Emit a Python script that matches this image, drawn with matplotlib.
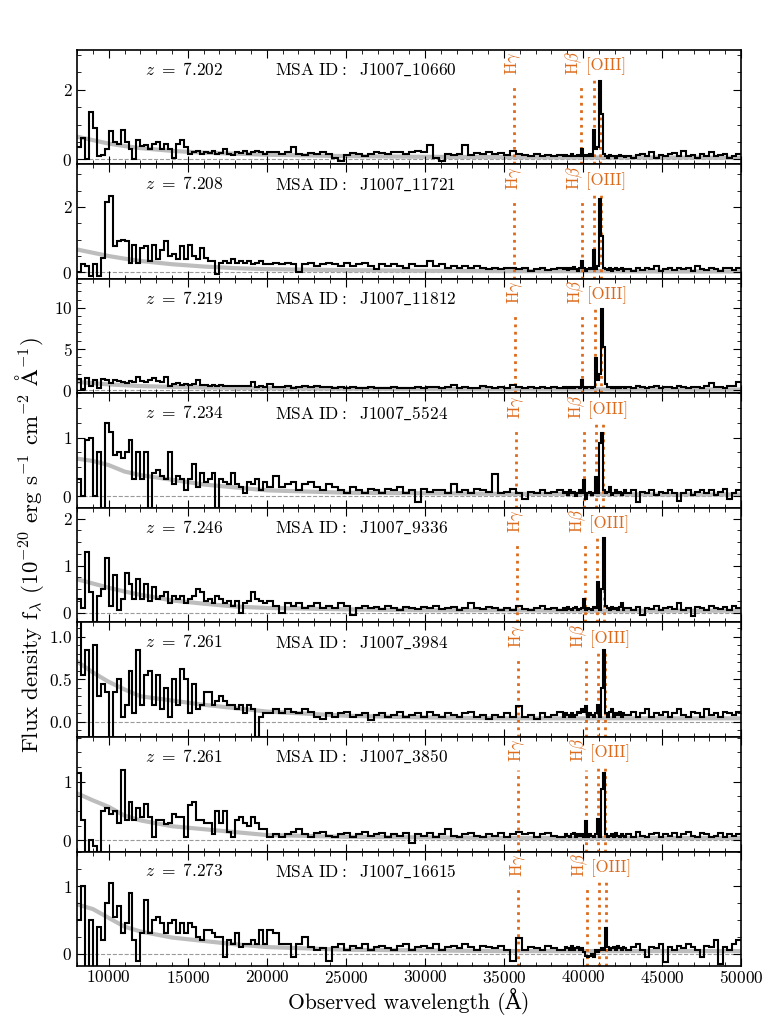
import numpy as np
import matplotlib.pyplot as plt
from matplotlib.ticker import MultipleLocator

plt.rcParams['font.family'] = 'serif'
plt.rcParams['font.serif'] = ['cmr10']
plt.rcParams['mathtext.fontset'] = 'cm'
plt.rcParams['axes.formatter.use_mathtext'] = True

redshifts = [7.202, 7.208, 7.219, 7.234, 7.246, 7.261, 7.261, 7.273]
msa_ids = ['10660', '11721', '11812', '5524', '9336', '3984', '3850', '16615']

# spectral bin edges (A): coarse blue/mid/red, fine around Hbeta+[OIII]
edges = np.concatenate([np.arange(8000, 20000, 250),
                        np.arange(20000, 38750, 375),
                        np.arange(38750, 42750, 125),
                        np.arange(42750, 50001, 290)])

# binned flux, 1e-20 erg/s/cm2/A  (rows: blue, mid, lines, red)
f_10660 = [0.35, 0.6, 0.0, 1.35, 0.9, 0.1, 0.12, 0.3, 0.8, 0.5, 0.45, 0.85, 0.5, 0.3, 0.0, 0.55, 0.38, 0.4, 0.3, 0.45, 0.5, 0.3, 0.45, 0.3, 0.05, 0.45, 0.55, 0.35, 0.15, 0.2, 0.25, 0.15, 0.22, 0.18, 0.25, 0.15, 0.18, 0.3, 0.15, 0.12, 0.2, 0.18, 0.25, 0.15, 0.2, 0.25, 0.22, 0.15,
           0.2, 0.2, 0.15, 0.2, 0.35, 0.15, 0.12, 0.18, 0.15, 0.2, 0.15, 0.05, -0.05, 0.12, 0.18, 0.15, 0.1, 0.15, 0.2, 0.18, 0.15, 0.2, 0.22, 0.15, 0.2, 0.25, 0.2, 0.4, 0.05, -0.05, 0.15, 0.12, 0.15, 0.4, 0.12, 0.18, 0.15, 0.2, 0.15, 0.18, 0.12, 0.25, 0.15, 0.12, 0.1, 0.15, 0.1, 0.12, 0.1, 0.12,
           0.1, 0.12, 0.08, 0.1, 0.15, 0.1, 0.08, 0.12, 0.1, 0.3, 0.1, 0.12, 0.08, 0.15, 0.1, 0.85, 0.3, 0.35, 2.25, 1.3, 0.15, 0.1, 0.05, 0.12, 0.08, 0.1, 0.05, 0.1, 0.12, 0.08, 0.1, 0.06,
           0.1, 0.05, 0.12, 0.15, 0.08, 0.2, 0.05, 0.12, 0.1, 0.15, 0.18, 0.1, 0.25, 0.08, 0.12, 0.05, 0.15, 0.1, 0.2, 0.08, 0.12, 0.15, 0.05, 0.1, 0.15]
f_11721 = [0.0, 0.25, 0.2, -0.1, 0.25, -0.1, 0.45, 2.15, 2.35, 0.8, 0.95, 1.0, 0.95, 0.3, 0.85, 0.3, 0.75, 0.8, 0.35, 0.85, 0.4, 0.7, 0.95, 0.5, 0.55, 0.4, 0.8, 0.4, 0.85, 0.5, 0.4, 0.75, 0.45, 0.35, 0.35, -0.05, 0.3, 0.35, 0.3, 0.4, 0.3, 0.35, 0.3, 0.35, 0.25, 0.3, 0.35, 0.25,
           0.25, 0.3, 0.25, 0.3, 0.25, 0.0, 0.25, 0.3, 0.2, 0.25, 0.3, 0.25, 0.2, 0.3, 0.2, 0.25, 0.3, 0.2, 0.1, 0.25, 0.2, 0.25, 0.2, 0.15, 0.25, 0.2, 0.2, 0.35, 0.2, 0.25, 0.15, 0.2, 0.15, 0.2, 0.15, 0.2, 0.15, 0.1, 0.15, 0.1, 0.12, 0.15, 0.1, 0.12, 0.05, 0.1, 0.12, 0.08, 0.1, 0.15,
           0.1, 0.15, 0.08, 0.12, 0.1, 0.18, 0.1, 0.05, 0.12, 0.35, 0.12, 0.05, 0.1, 0.15, 0.1, 0.7, 0.1, 0.2, 2.25, 1.1, 0.15, 0.1, 0.08, 0.12, 0.05, 0.1, 0.15, 0.08, 0.1, 0.12, 0.05, 0.1,
           0.1, 0.05, 0.15, 0.08, 0.12, 0.1, 0.2, 0.05, 0.1, 0.15, 0.08, 0.12, 0.1, 0.15, 0.05, 0.2, 0.1, 0.08, 0.15, 0.1, 0.05, 0.12, 0.15, 0.08, 0.12]
f_11812 = [1.3, 0.1, 1.5, 0.5, 1.2, 0.3, 1.3, 1.2, 0.9, 1.2, 1.1, 1.0, 0.9, 1.1, 1.0, 1.6, 1.1, 1.0, 1.2, 1.5, 1.1, 1.0, 1.6, 0.5, 0.8, 0.9, 0.6, 0.7, 0.6, 0.8, 1.2, 0.6, 0.6, 0.5, 0.6, 0.5, 0.6, 0.5, 0.55, 0.5, 0.45, 0.5, 0.5, 0.45, 1.0, 0.4, 0.45, 0.4,
           0.8, 0.4, 0.35, 0.45, 0.3, 0.4, 0.45, 0.35, 0.5, 0.4, 0.35, 0.3, 0.4, 0.3, 0.35, 0.25, 0.3, 0.35, 0.3, 0.25, 0.3, 0.35, 0.3, 0.25, 0.3, 0.35, 0.3, 0.35, 0.4, 0.3, 0.35, 0.6, 0.3, 0.35, 0.3, 0.3, 0.5, 0.35, 0.3, 0.35, 0.3, 0.6, 0.35, 0.3, 0.35, 0.3, 0.4, 0.3, 0.35, 0.3,
           0.35, 0.3, 0.4, 0.3, 0.35, 0.3, 0.4, 0.35, 0.3, 1.25, 0.35, 0.3, 0.4, 0.35, 0.3, 0.4, 3.9, 1.2, 2.0, 9.8, 5.2, 0.8, 0.4, 0.35, 0.3, 0.4, 0.3, 0.35, 0.3, 0.4, 0.35, 0.3,
           0.4, 0.3, 0.45, 0.35, 0.3, 0.4, 0.5, 0.3, 0.35, 0.4, 0.3, 0.45, 0.35, 0.3, 0.4, 0.35, 0.3, 0.45, 0.9, 0.35, 0.4, 0.3, 0.45, 0.5, 1.0]
f_5524 = [0.3, 0.0, 0.95, 1.0, 0.0, 0.75, -0.2, 1.25, 1.1, 0.7, 0.75, 0.65, 0.75, 0.95, 0.3, 0.75, 0.3, 0.75, -0.2, 0.4, 0.45, 0.35, 0.3, 0.75, 0.2, 0.35, 0.3, 0.1, 0.3, 0.55, 0.15, 0.4, 0.25, 0.3, 0.4, -0.2, 0.3, 0.25, 0.2, 0.4, 0.2, 0.15, 0.05, 0.25, 0.2, 0.3, 0.1, 0.25,
          0.15, 0.35, 0.15, 0.2, 0.25, 0.1, 0.2, 0.25, 0.15, 0.1, 0.2, 0.15, 0.1, 0.05, 0.15, 0.1, 0.05, 0.12, 0.1, 0.05, 0.12, 0.1, 0.15, 0.05, 0.1, -0.1, 0.12, 0.08, 0.1, 0.1, 0.05, 0.2, 0.08, 0.1, 0.05, 0.12, 0.1, 0.08, 0.38, 0.05, 0.08, 0.12, 0.05, -0.05, 0.08, 0.05, 0.1, 0.05, 0.08, 0.1,
          0.05, 0.08, 0.02, 0.1, 0.05, 0.08, 0.0, 0.05, 0.1, 0.05, 0.28, -0.05, 0.05, 0.08, 0.02, 0.05, 0.32, 0.05, 0.9, 1.08, 0.1, 0.05, 0.08, 0.15, 0.02, 0.05, 0.1, 0.05, 0.08, 0.02, 0.05, 0.1,
          0.05, 0.1, -0.1, 0.08, 0.05, 0.1, 0.02, 0.08, 0.05, 0.1, 0.05, -0.08, 0.05, 0.1, 0.02, 0.08, 0.1, 0.05, 0.1, 0.02, 0.08, 0.12, -0.05, 0.05, 0.1]
f_9336 = [0.3, 0.1, 1.3, 0.45, -0.2, 0.35, 0.5, 1.17, 0.15, 0.8, 0.05, 0.3, 0.85, 0.6, 0.3, 0.72, 0.3, 0.6, 0.25, 0.55, 0.3, 0.35, 0.45, 0.2, 0.35, 0.3, 0.35, 0.2, 0.3, 0.35, 0.5, 0.45, 0.25, 0.3, 0.2, 0.35, 0.3, 0.2, 0.25, 0.15, 0.25, 0.0, 0.2, 0.25, 0.45, 0.3, 0.25, 0.2,
          0.25, 0.15, 0.0, 0.2, 0.15, 0.2, 0.1, 0.15, 0.2, 0.1, 0.15, 0.1, 0.2, 0.15, -0.05, 0.1, 0.15, 0.1, 0.12, 0.08, 0.15, 0.1, 0.05, 0.12, 0.1, 0.08, 0.12, 0.1, 0.15, 0.08, 0.1, 0.12, 0.05, 0.1, 0.2, 0.1, 0.08, 0.12, 0.1, 0.05, 0.1, 0.05, 0.15, 0.08, 0.05, 0.1, 0.15, 0.08, 0.1, 0.05,
          0.1, 0.05, 0.12, 0.08, 0.05, 0.1, 0.12, 0.05, 0.08, 0.1, 0.28, 0.05, 0.1, 0.08, 0.05, 0.12, 0.1, 0.66, 0.05, 0.5, 1.6, 0.15, 0.1, 0.05, 0.12, 0.08, 0.1, 0.05, 0.12, 0.2, 0.05, 0.1,
          0.1, 0.05, 0.12, -0.05, 0.1, 0.08, 0.15, 0.05, 0.1, 0.12, 0.08, 0.2, 0.05, 0.1, -0.08, 0.12, 0.1, 0.05, 0.15, 0.1, 0.08, 0.12, 0.05, 0.15, 0.1]
f_3984 = [1.3, 0.55, 0.85, -0.2, 0.9, 0.3, 0.45, 0.35, -0.2, 0.35, 0.5, 0.05, 0.2, 0.6, 0.1, 0.84, 0.2, 0.55, 0.6, 0.2, 0.55, 0.15, 0.4, 0.05, 0.5, 0.2, 0.62, 0.5, 0.1, 0.45, 0.15, 0.2, 0.35, 0.35, 0.2, 0.25, 0.3, 0.25, 0.2, 0.2, 0.15, 0.2, 0.1, 0.2, 0.15, -0.18, 0.05, 0.1,
          0.1, 0.15, 0.1, 0.15, 0.12, 0.1, 0.15, 0.12, 0.05, 0.03, 0.1, 0.05, 0.1, 0.12, 0.05, 0.08, 0.1, 0.02, 0.08, 0.1, 0.05, 0.08, 0.12, 0.05, 0.08, 0.1, 0.05, 0.12, 0.08, 0.05, 0.1, 0.08, 0.05, 0.1, 0.12, 0.05, 0.08, 0.03, 0.08, 0.05, 0.1, 0.05, 0.19, 0.05, 0.08, 0.03, 0.1, 0.05, 0.08, 0.12,
          0.05, 0.1, 0.08, 0.05, 0.1, 0.05, 0.08, 0.12, 0.1, 0.15, 0.12, 0.19, 0.05, 0.1, 0.08, 0.05, 0.1, 0.2, 0.05, 0.4, 0.84, 0.1, 0.05, 0.12, 0.15, 0.05, 0.1, 0.08, 0.12, 0.05, 0.1, 0.08,
          0.08, 0.12, 0.05, 0.1, 0.15, 0.05, 0.1, 0.08, 0.12, 0.05, 0.1, 0.15, 0.08, 0.05, 0.12, 0.1, 0.05, 0.15, 0.08, 0.1, 0.05, 0.12, 0.1, 0.08, 0.12]
f_3850 = [1.15, 0.35, -0.2, 0.0, -0.1, -0.2, 0.5, 0.55, 0.45, 0.5, 0.3, 1.2, 0.35, 0.65, 0.35, 0.55, 0.4, 0.62, 0.4, 0.05, 0.35, 0.35, 0.28, 0.3, 0.45, 0.4, 0.4, 0.05, 0.6, 0.65, 0.35, 0.35, 0.3, 0.3, 0.1, 0.5, 0.3, 0.5, 0.15, 0.05, 0.35, 0.4, 0.3, 0.25, 0.4, 0.3, 0.2, 0.2,
          0.05, 0.1, 0.05, 0.1, 0.15, 0.2, 0.1, 0.05, 0.12, 0.15, 0.08, 0.05, 0.1, 0.12, 0.05, 0.1, 0.15, 0.08, 0.1, 0.12, 0.05, 0.1, 0.08, 0.12, -0.05, 0.1, 0.08, 0.12, 0.05, 0.1, 0.2, 0.08, 0.05, 0.1, 0.12, 0.08, 0.05, 0.1, 0.08, 0.12, 0.05, 0.1, 0.15, 0.1, 0.12, 0.05, 0.1, 0.12, 0.08, 0.05,
          0.05, 0.1, 0.08, 0.05, 0.1, 0.12, 0.05, 0.1, 0.08, 0.1, 0.05, 0.33, 0.05, 0.1, 0.08, 0.05, 0.1, 0.37, 0.05, 0.88, 1.15, 0.1, 0.05, 0.08, 0.1, 0.05, 0.12, 0.08, 0.05, 0.1, 0.08, 0.05,
          0.1, 0.05, 0.15, 0.08, 0.05, 0.1, 0.12, 0.05, 0.1, 0.08, 0.12, 0.05, 0.1, 0.15, 0.08, 0.05, 0.12, 0.1, 0.05, 0.08, 0.12, 0.05, 0.1, 0.08, 0.1]
f_16615 = [0.5, 1.0, -0.2, 0.5, -0.2, 0.4, 0.2, 0.75, 1.05, 0.55, 0.7, 0.3, 0.45, 0.9, 0.2, -0.1, 0.3, 0.8, 0.3, 0.5, 0.55, 0.45, 0.3, 0.45, 0.5, 0.3, 0.45, 0.3, 0.45, 0.4, 0.25, 0.2, 0.35, 0.35, 0.3, 0.25, 0.25, -0.05, 0.2, 0.15, 0.3, 0.1, 0.15, 0.15, 0.2, 0.15, 0.35, 0.15,
           0.35, 0.3, 0.15, 0.15, -0.05, 0.15, 0.25, 0.1, 0.05, 0.08, -0.1, 0.1, 0.15, 0.05, 0.12, 0.08, 0.15, 0.05, 0.1, 0.12, 0.08, 0.05, 0.12, 0.15, 0.05, 0.1, 0.12, 0.08, 0.15, 0.05, 0.1, 0.12, 0.08, 0.15, 0.1, 0.05, 0.12, 0.1, 0.08, 0.12, 0.05, -0.1, 0.23, 0.05, 0.1, 0.08, 0.05, 0.12, 0.08, 0.05,
           0.05, 0.1, 0.08, 0.05, 0.12, 0.05, 0.08, 0.1, 0.05, 0.08, 0.02, -0.03, -0.05, -0.03, 0.0, -0.05, 0.05, 0.02, 0.05, 0.08, 0.05, 0.38, 0.1, 0.05, 0.08, 0.1, 0.05, 0.12, 0.08, 0.05, 0.1, 0.08,
           0.05, 0.1, 0.15, 0.05, -0.05, 0.1, 0.08, 0.15, -0.12, 0.1, 0.05, 0.12, 0.08, 0.15, 0.1, 0.05, -0.05, 0.12, 0.1, 0.2, -0.15, 0.1, 0.05, 0.15, 0.2]
fluxes = [f_10660, f_11721, f_11812, f_5524, f_9336, f_3984, f_3850, f_16615]

# continuum model (grey)
model_wave = [8000, 9000, 10000, 11000, 12000, 14000, 16000, 18000, 20000, 25000, 30000, 35000, 40000, 45000, 50000]
m_10660 = [0.65, 0.55, 0.45, 0.38, 0.32, 0.24, 0.19, 0.16, 0.13, 0.09, 0.07, 0.06, 0.05, 0.05, 0.04]
m_11721 = [0.7, 0.6, 0.5, 0.42, 0.35, 0.25, 0.18, 0.13, 0.1, 0.07, 0.05, 0.04, 0.04, 0.03, 0.03]
m_11812 = [1.0, 0.85, 0.7, 0.6, 0.5, 0.4, 0.33, 0.28, 0.24, 0.18, 0.14, 0.12, 0.1, 0.09, 0.08]
m_5524 = [0.64, 0.6, 0.53, 0.42, 0.36, 0.28, 0.2, 0.15, 0.1, 0.06, 0.05, 0.04, 0.04, 0.03, 0.03]
m_9336 = [0.71, 0.62, 0.53, 0.45, 0.38, 0.26, 0.19, 0.13, 0.1, 0.07, 0.05, 0.05, 0.04, 0.04, 0.04]
m_3984 = [0.71, 0.58, 0.47, 0.38, 0.3, 0.25, 0.2, 0.16, 0.12, 0.07, 0.05, 0.04, 0.04, 0.04, 0.04]
m_3850 = [0.8, 0.68, 0.57, 0.42, 0.34, 0.24, 0.19, 0.14, 0.09, 0.06, 0.05, 0.04, 0.04, 0.04, 0.04]
m_16615 = [0.73, 0.66, 0.53, 0.4, 0.33, 0.24, 0.19, 0.14, 0.1, 0.06, 0.05, 0.04, 0.04, 0.04, 0.04]
models = [m_10660, m_11721, m_11812, m_5524, m_9336, m_3984, m_3850, m_16615]

ylims = [(-0.15, 3.15), (-0.2, 3.3), (-0.4, 13.5), (-0.2, 1.75),
         (-0.21, 2.23), (-0.18, 1.17), (-0.19, 1.76), (-0.18, 1.51)]
ymajor = [2, 2, 5, 1, 1, 0.5, 1, 1]
yminor = [0.5, 0.5, 1, 0.25, 0.25, 0.1, 0.25, 0.25]

rest = {'Hg': 4341.68, 'Hb': 4862.68, 'O3a': 4960.30, 'O3b': 5008.24}
orange = '#dd6a1b'

fig, axes = plt.subplots(8, 1, figsize=(7.64, 10.19), sharex=True)
fig.subplots_adjust(left=0.101, right=0.97, top=0.951, bottom=0.052, hspace=0)

for i, ax in enumerate(axes):
    z = redshifts[i]
    ax.axhline(0, color='#9a9a9a', lw=0.8, ls='--', zorder=0)
    ax.plot(model_wave, models[i], color='#bdbdbd', lw=3, zorder=1)
    ax.stairs(fluxes[i], edges, color='k', lw=1.5, baseline=None, zorder=3)

    tr = ax.get_xaxis_transform()
    for key in ['Hg', 'Hb']:
        ax.axvline(rest[key] * (1 + z), ymin=0, ymax=0.71, color=orange, ls=':', lw=2, zorder=2)
    for key in ['O3a', 'O3b']:
        ax.axvline(rest[key] * (1 + z), ymin=0, ymax=0.745, color=orange, ls=':', lw=2, zorder=2)
    ax.text(rest['Hg'] * (1 + z), 0.78, r'H$\gamma$', transform=tr, rotation=90,
            ha='center', va='bottom', color=orange, fontsize=12)
    ax.text(rest['Hb'] * (1 + z) - 450, 0.78, r'H$\beta$', transform=tr, rotation=90,
            ha='center', va='bottom', color=orange, fontsize=12)
    ax.text(rest['O3b'] * (1 + z) + 350, 0.78, '[OIII]', transform=tr,
            ha='center', va='bottom', color=orange, fontsize=12)

    ax.text(0.102, 0.83, r'$z\ =\ %.3f$' % z, transform=ax.transAxes,
            ha='left', va='center', fontsize=12.5)
    ax.text(0.298, 0.83, r'$\mathrm{MSA\ ID:\ \ J1007\_%s}$' % msa_ids[i], transform=ax.transAxes,
            ha='left', va='center', fontsize=12.5)

    ax.set_xlim(8000, 50000)
    ax.set_ylim(*ylims[i])
    ax.yaxis.set_major_locator(MultipleLocator(ymajor[i]))
    ax.yaxis.set_minor_locator(MultipleLocator(yminor[i]))
    ax.xaxis.set_major_locator(MultipleLocator(5000))
    ax.xaxis.set_minor_locator(MultipleLocator(1000))
    ax.tick_params(which='both', direction='in', top=True, right=True, labelsize=12.5)
    ax.tick_params(which='major', length=6)
    ax.tick_params(which='minor', length=3)
    for s in ax.spines.values():
        s.set_linewidth(1.2)

axes[-1].tick_params(axis='x', pad=2)
fig.text(0.5355, 0.004, 'Observed wavelength (Å)', ha='center', va='bottom',
         fontsize=15.5, family=['cmr10', 'DejaVu Serif'])
fig.text(0.038, 0.465, r'Flux density f$_\lambda$ (10$^{-20}$ erg s$^{-1}$ cm$^{-2}$ $\mathrm{\AA}^{-1}$)',
         rotation=90, ha='center', va='center', fontsize=16.5)

fig.savefig('out.png', dpi=100)
